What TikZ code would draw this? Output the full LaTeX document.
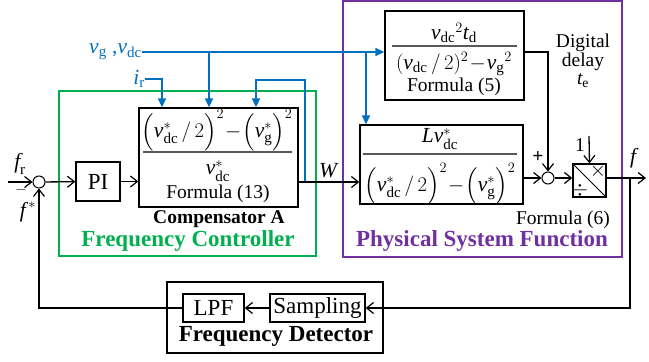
\documentclass[tikz,border=0pt]{standalone}
\usepackage{amsmath}
\usepackage{fontspec}
\setmainfont{Liberation Serif}
\usetikzlibrary{arrows.meta}

\definecolor{sigblue}{RGB}{0,112,192}
\definecolor{ctrlgreen}{RGB}{0,176,80}
\definecolor{sysviolet}{RGB}{112,48,160}
\newcommand{\mv}[1]{\textit{#1}}

\tikzset{
    blk/.style={draw, line width=1.3pt, inner sep=0pt},
    sumc/.style={draw, circle, line width=1pt, minimum size=12pt, inner sep=0pt},
    sig/.style={line width=1.3pt, -{Straight Barb[length=7pt,width=11pt,line width=1.2pt]}},
    bsig/.style={sigblue, line width=1.5pt, -{Triangle[length=9pt,width=8pt]}},
    frac/.style={gray!70!black, line width=1.2pt},
    lbl/.style={inner sep=0pt, font=\fontsize{19.5}{19}\selectfont},
    mth/.style={inner sep=0pt, font=\fontsize{21.5}{21}\selectfont},
    big/.style={inner sep=0pt, font=\fontsize{23}{24}\selectfont},
    ttl/.style={inner sep=0pt, font=\fontsize{23}{24}\selectfont\bfseries},
}

\begin{document}
\begin{tikzpicture}[x=1pt, y=-1pt]
    \useasboundingbox (0,0) rectangle (649,362);

    % group frames
    \draw[ctrlgreen, line width=2pt] (59,91) rectangle (316,256);
    \draw[sysviolet, line width=2pt] (343,1) rectangle (622,257);
    \draw[line width=2.5pt] (167,282) rectangle (383,353);

    % blocks
    \node[sumc] (s1) at (39,182) {};
    \node[blk, minimum width=44pt, minimum height=39pt, big] (pi) at (98,181.5) {PI};
    \node[blk, minimum width=159pt, minimum height=99pt] (comp) at (218.5,157.5) {};
    \node[blk, minimum width=139pt, minimum height=89pt] (f5) at (454.5,55.5) {};
    \node[blk, minimum width=163pt, minimum height=79pt] (sysf) at (441.5,164.5) {};
    \node[sumc] (s2) at (548,178) {};
    \node[blk, minimum size=33pt] (md) at (589.5,180.5) {};
    \node[blk, minimum width=95pt, minimum height=28pt, big] (samp) at (317.5,308) {Sampling};
    \node[blk, minimum width=61pt, minimum height=28pt, big] (lpf) at (213.5,308) {LPF};

    % formula (13)
    \node[mth] (n13) at (217,130) {$\Big(\mv{v}^{*}_{\text{dc}}\,/\,2\Big)^{2}\!-\!\Big(\mv{v}^{*}_{\text{g}}\Big)^{2}$};
    \draw[frac] (143,152) -- (292,152);
    \node[mth] (d13) at (218,171) {$\mv{v}^{*}_{\text{dc}}$};
    \node[lbl] (t13) at (218,194) {Formula (13)};

    % formula (5)
    \node[mth] (n5) at (454,33) {$\mv{v}_{\text{dc}}{}^{2}\mv{t}_{\text{d}}$};
    \draw[frac] (392,46) -- (517,46);
    \node[mth] (d5) at (454,64) {$(\mv{v}_{\text{dc}}\,/\,2)^{2}\!-\!\mv{v}_{\text{g}}{}^{2}$};
    \node[lbl] (t5) at (454,87) {Formula (5)};

    % formula (6)
    \node[mth] (n6) at (440,139) {$\mv{L}\mv{v}^{*}_{\text{dc}}$};
    \draw[frac] (363,154) -- (517,154);
    \node[mth] (d6) at (440,184) {$\Big(\mv{v}^{*}_{\text{dc}}\,/\,2\Big)^{2}\!-\!\Big(\mv{v}^{*}_{\text{g}}\Big)^{2}$};

    % multiply / divide
    \draw[line width=1pt] (md.north west) -- (md.south east);
    \node[lbl] (mul) at (598,171) {$\times$};
    \node[lbl] (dvd) at (580,190) {$\div$};

    % labels
    \node[mth] (fr) at (20,164) {$\mv{f}_{\text{r}}$};
    \node[lbl, font=\fontsize{15}{15}\selectfont] (mi) at (21,190) {$-$};
    \node[mth] (fs) at (28,212) {$\mv{f}^{\,*}$};
    \node[mth] (wl) at (328,171) {$\mv{W}$};
    \node[mth, sigblue, anchor=east] (vlab) at (142,52) {$\mv{v}_{\text{g}}$ ,$\mv{v}_{\text{dc}}$};
    \node[mth, sigblue, anchor=east] (ilab) at (145,79) {$\mv{i}_{\text{r}}$};
    \node[lbl, align=center, font=\fontsize{19.5}{18.5}\selectfont] (dly) at (583,61) {Digital\\delay\\$\mv{t}_{\text{e}}$};
    \node[lbl] (pl) at (538,157) {\bfseries +};
    \node[lbl] (one) at (580,145) {1};
    \node[mth] (fo) at (633,158) {$\mv{f}$};
    \node[lbl, anchor=east] (t6) at (610,220) {Formula (6)};
    \node[lbl, font=\fontsize{19.5}{20}\selectfont\bfseries] (compA) at (219,219) {Compensator A};
    \node[ttl, ctrlgreen] (fc) at (188,241) {Frequency Controller};
    \node[ttl, sysviolet] (psf) at (482,241) {Physical System Function};
    \node[ttl] (fd) at (276,336) {Frequency Detector};

    % blue signal lines
    \coordinate (b1) at (209,52);
    \coordinate (b2) at (366,52);
    \coordinate (c1) at (162,79);
    \coordinate (c3) at (256,80);
    \coordinate (wfb) at (305,182);
    \draw[bsig] (vlab.east) -- (f5.west |- vlab.east);
    \draw[bsig] (b1) -- (b1 |- comp.north);
    \draw[bsig] (b2) -- (b2 |- sysf.north);
    \draw[bsig] (ilab.east) -| (c1 |- comp.north);
    \draw[bsig] (wfb) |- (c3) -- (c3 |- comp.north);

    % black signal lines
    \coordinate (fin) at (8,182);
    \coordinate (oneup) at (589,136);
    \coordinate (fout) at (646,178);
    \coordinate (tap) at (630,178);
    \draw[sig] (fin) -- (s1);
    \draw[sig] (s1) -- (pi);
    \draw[sig] (pi) -- (pi -| comp.west);
    \draw[sig] (comp.east |- s1) -- (sysf.west |- s1);
    \draw[sig] (sysf.east |- s2) -- (s2);
    \draw[sig] (f5.east |- vlab.east) -| (s2.north);
    \draw[sig] (s2) -- (md.west |- s2);
    \draw[sig] (oneup) -- (md.north);
    \draw[sig] (md.east |- s2) -- (fout);
    \draw[sig] (tap) |- (samp.east);
    \draw[sig] (samp) -- (lpf);
    \draw[sig] (lpf.west) -| (s1.south);
\end{tikzpicture}
\end{document}
